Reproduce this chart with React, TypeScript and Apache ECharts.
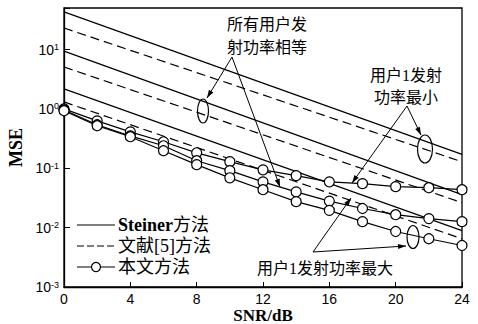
import React, { useEffect, useRef } from "react";
import * as echarts from "echarts";

// SNR values (dB)
const snr = [0, 2, 4, 6, 8, 10, 12, 14, 16, 18, 20, 22, 24];
const snrEnds = [0, 24];
const xTicks = [0, 4, 8, 12, 16, 20, 24];

// Steiner method (solid lines, read at the end points)
const steinerEqual = [43, 0.171];
const steinerMin = [9.4, 0.0359];
const steinerMax = [2.17, 0.0089];

// Ref [5] method (dashed lines)
const ref5Equal = [23, 0.1286];
const ref5Min = [5.08, 0.0263];
const ref5Max = [1.31, 0.0065];

// Proposed method (lines with circles)
const oursA = [1.0, 0.628, 0.41, 0.279, 0.182, 0.129, 0.094, 0.075, 0.059, 0.055, 0.049, 0.047, 0.0435];
const oursB = [0.96, 0.54, 0.35, 0.239, 0.134, 0.091, 0.059, 0.04, 0.028, 0.021, 0.0165, 0.0142, 0.0126];
const oursC = [0.93, 0.52, 0.34, 0.197, 0.115, 0.069, 0.0435, 0.0274, 0.0195, 0.0126, 0.0086, 0.0065, 0.005];

const NAME_S = "Steiner方法";
const NAME_R = "文献[5]方法";
const NAME_O = "本文方法";
const X_NAME = "SNR/dB";

const serif = '"Liberation Serif", "Noto Sans CJK SC", serif';
const sans = '"Liberation Sans", Arial, sans-serif';

function arrowHead(x1: number, y1: number, x2: number, y2: number) {
  const dx = x2 - x1;
  const dy = y2 - y1;
  const len = Math.sqrt(dx * dx + dy * dy);
  const ux = dx / len;
  const uy = dy / len;
  const L = 8;
  const W = 2.6;
  const bx = x2 - ux * L;
  const by = y2 - uy * L;
  return {
    type: "polygon",
    shape: {
      points: [
        [x2, y2],
        [bx - uy * W, by + ux * W],
        [bx + uy * W, by - ux * W],
      ],
    },
    style: { fill: "#000" },
    silent: true,
  };
}

function arrow(x1: number, y1: number, x2: number, y2: number) {
  return [
    {
      type: "line",
      shape: { x1, y1, x2, y2 },
      style: { stroke: "#000", lineWidth: 1 },
      silent: true,
    },
    arrowHead(x1, y1, x2, y2),
  ];
}

function ellipse(cx: number, cy: number, rx: number, ry: number) {
  return {
    type: "ellipse",
    shape: { cx, cy, rx, ry },
    style: { fill: "none", stroke: "#000", lineWidth: 1.2 },
    silent: true,
  };
}

function label(text: string, x: number, y: number, align: string) {
  return {
    type: "text",
    x,
    y,
    style: {
      text,
      fill: "#000",
      fontSize: 16,
      fontFamily: serif,
      align,
      verticalAlign: "middle",
    },
    silent: true,
  };
}

// legend drawn with graphic elements
function legendItem(kind: "solid" | "dashed" | "marker", text: string, y: number) {
  const x0 = 77;
  const x1 = 115;
  const items: any[] = [
    {
      type: "line",
      shape: { x1: x0, y1: y, x2: x1, y2: y },
      style: {
        stroke: "#000",
        lineWidth: 1.2,
        lineDash: kind === "dashed" ? [7, 3] : null,
      },
      silent: true,
    },
  ];
  if (kind === "marker") {
    items.push({
      type: "circle",
      shape: { cx: (x0 + x1) / 2, cy: y, r: 4.5 },
      style: { fill: "#fff", stroke: "#000", lineWidth: 1.2 },
      silent: true,
    });
  }
  items.push({
    type: "text",
    x: 118,
    y,
    style: {
      text,
      fill: "#000",
      fontSize: 18,
      fontFamily: serif,
      verticalAlign: "middle",
      rich: {
        b: { fontSize: 18, fontWeight: "bold", fontFamily: serif, fill: "#000" },
      },
    },
    silent: true,
  });
  return items;
}

function pairs(xs: number[], ys: number[]) {
  return xs.map((x, i) => [x, ys[i]]);
}

export default function App() {
  const ref = useRef<HTMLDivElement>(null);

  useEffect(() => {
    if (!ref.current) return;
    const chart = echarts.init(ref.current, undefined, { renderer: "svg" });

    const solid = (data: number[]) => ({
      type: "line",
      name: NAME_S,
      data: pairs(snrEnds, data),
      symbol: "none",
      lineStyle: { color: "#000", width: 1.2, type: "solid" },
      itemStyle: { color: "#000" },
      silent: true,
    });
    const dashed = (data: number[]) => ({
      type: "line",
      name: NAME_R,
      data: pairs(snrEnds, data),
      symbol: "none",
      lineStyle: { color: "#000", width: 1.2, type: [9, 5] },
      itemStyle: { color: "#000" },
      silent: true,
    });
    const ours = (data: number[]) => ({
      type: "line",
      name: NAME_O,
      data: pairs(snr, data),
      symbol: "circle",
      symbolSize: 10,
      showSymbol: true,
      lineStyle: { color: "#000", width: 1.2 },
      itemStyle: { color: "#fff", borderColor: "#000", borderWidth: 1.2 },
      z: 3,
      silent: true,
    });

    const option = {
      animation: false,
      backgroundColor: "#fff",
      grid: {
        left: 64,
        right: 16,
        top: 8,
        bottom: 37,
        containLabel: false,
        outerBoundsMode: "none",
        show: true,
        borderColor: "#000",
        borderWidth: 1.3,
        backgroundColor: "transparent",
      },
      xAxis: {
        type: "value",
        min: xTicks[0],
        max: xTicks[xTicks.length - 1],
        interval: 4,
        axisLine: { lineStyle: { color: "#000", width: 1.3 } },
        axisTick: { inside: true, length: 5, lineStyle: { color: "#000" } },
        axisLabel: { fontSize: 14, fontFamily: sans, color: "#000", margin: 5 },
        splitLine: { show: false },
      },
      yAxis: {
        type: "log",
        logBase: 10,
        min: 0.001,
        max: 50,
        name: "MSE",
        nameLocation: "middle",
        nameGap: 37,
        nameRotate: 90,
        nameTextStyle: { fontSize: 18, fontWeight: "bold", fontFamily: serif, color: "#000" },
        axisLine: { lineStyle: { color: "#000", width: 1.3 } },
        axisTick: { inside: true, length: 6, lineStyle: { color: "#000" } },
        axisLabel: {
          color: "#000",
          fontSize: 14,
          fontFamily: sans,
          margin: 5,
          formatter: (v: number) => {
            const e = Math.log10(v);
            const r = Math.round(e);
            if (Math.abs(e - r) > 1e-6) return "";
            return `{a|10}{s|${r}}`;
          },
          rich: {
            a: { fontSize: 14, fontFamily: sans, color: "#000", lineHeight: 14, verticalAlign: "bottom" },
            s: { fontSize: 9, fontFamily: sans, color: "#000", lineHeight: 9, verticalAlign: "top" },
          },
        },
        splitLine: { show: false },
      },
      series: [
        solid(steinerEqual),
        solid(steinerMin),
        solid(steinerMax),
        dashed(ref5Equal),
        dashed(ref5Min),
        dashed(ref5Max),
        ours(oursA),
        ours(oursB),
        ours(oursC),
      ],
      graphic: [
        {
          type: "text",
          x: 263,
          y: 315,
          style: {
            text: X_NAME,
            fill: "#000",
            fontSize: 17,
            fontWeight: "bold",
            fontFamily: serif,
            align: "center",
            verticalAlign: "middle",
          },
          silent: true,
        },
        label("所有用户发", 227, 24, "left"),
        label("射功率相等", 227, 47, "left"),
        label("用户1发射", 406, 75, "center"),
        label("功率最小", 406, 97, "center"),
        label("用户1发射功率最大", 257, 268, "left"),
        ellipse(203, 111, 5.5, 12),
        ellipse(425, 149, 7.5, 14),
        ellipse(413, 237, 6, 11.5),
        ...arrow(232, 57, 207, 98),
        ...arrow(232, 57, 280, 187),
        ...arrow(407, 106, 421, 135),
        ...arrow(407, 106, 352, 183),
        ...arrow(313, 252, 406, 246),
        ...arrow(313, 252, 351, 198),
        ...legendItem("solid", "{b|Steiner}方法", 225),
        ...legendItem("dashed", NAME_R, 246),
        ...legendItem("marker", NAME_O, 267),
      ],
    };

    chart.setOption(option as any);
    return () => chart.dispose();
  }, []);

  return (
    <div
      ref={ref}
      style={{ position: "fixed", left: 0, top: 0, width: 478, height: 324, background: "#fff" }}
    />
  );
}
